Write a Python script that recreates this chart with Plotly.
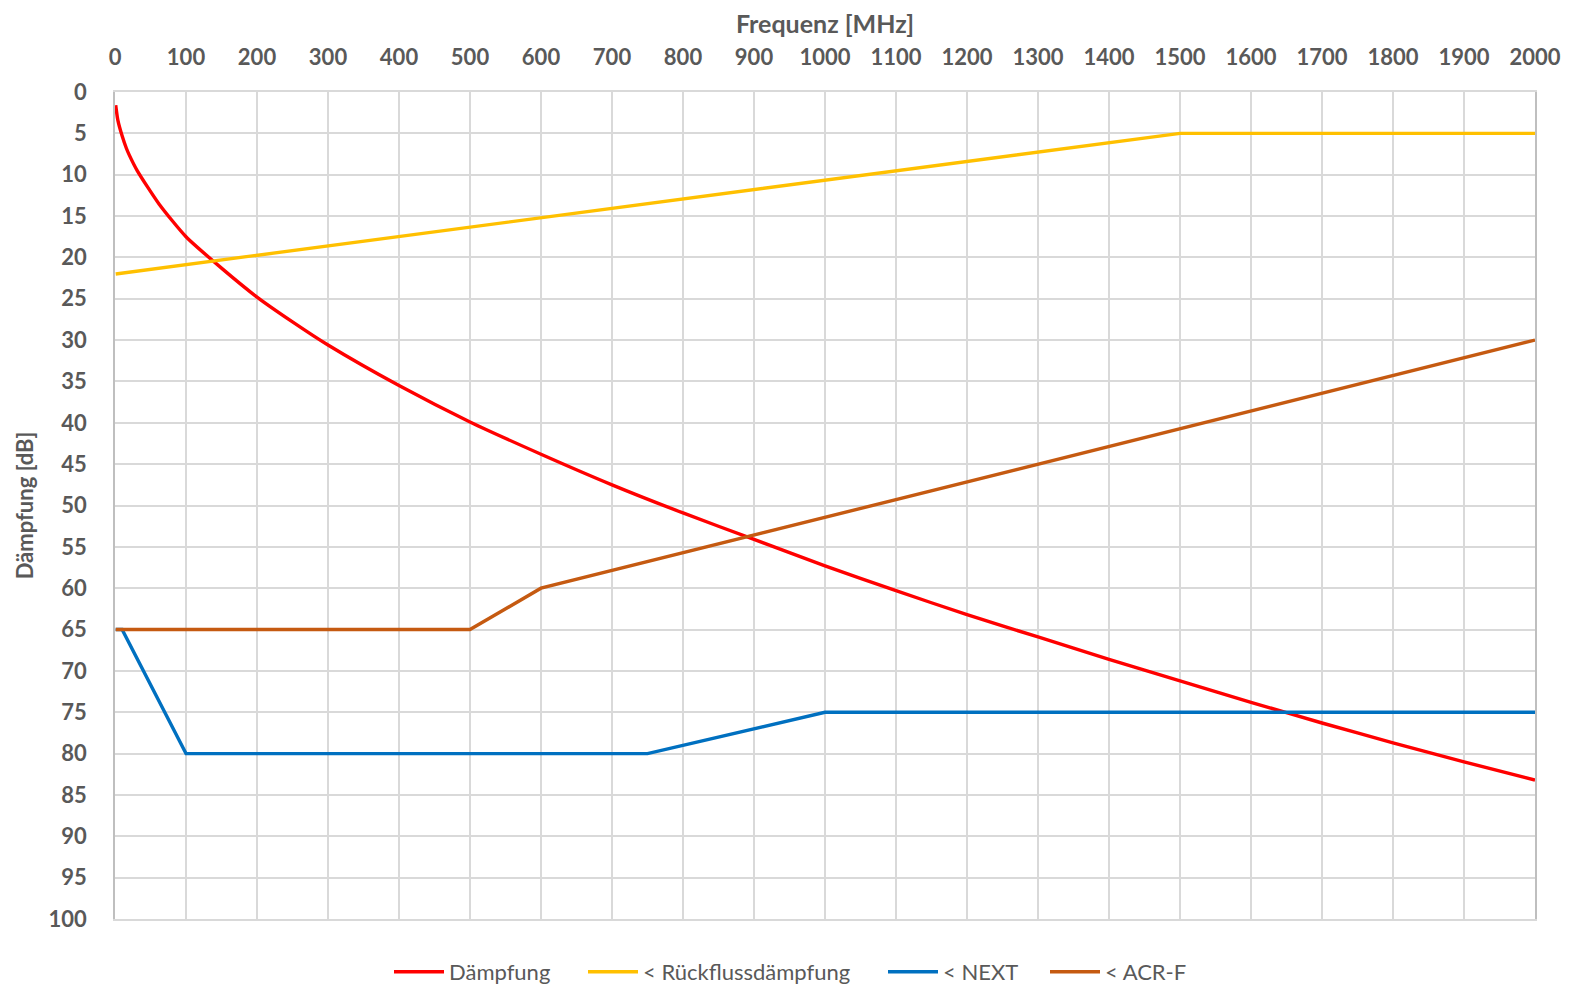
import plotly.graph_objects as go

# Data
daempf_f = [1, 4, 10, 16, 20, 31.25, 62.5, 100, 150, 200, 250, 300, 400, 500, 600, 700, 800, 900,
            1000, 1100, 1200, 1300, 1400, 1500, 1600, 1700, 1800, 1900, 2000]
daempf_db = [1.6, 3.4, 5.3, 6.8, 7.6, 9.5, 13.6, 17.5, 21.3, 24.8, 27.8, 30.6, 35.5, 39.9, 43.8, 47.5,
             50.9, 54.1, 57.3, 60.3, 63.2, 65.9, 68.6, 71.2, 73.8, 76.3, 78.7, 81.0, 83.2]

rl_f = [1, 1500, 2000]
rl_db = [22, 5, 5]

next_f = [1, 10, 100, 750, 1000, 2000]
next_db = [65, 65, 80, 80, 75, 75]

acrf_f = [1, 500, 600, 2000]
acrf_db = [65, 65, 60, 30]

x_ticks = list(range(0, 2001, 100))
y_ticks = list(range(0, 101, 5))

FONT = "Lato"
GREY = "#595959"

# page body has an 8px margin, so the figure is sized to the visible area
W, H = 1567, 976

series = [
    ("Dämpfung", daempf_f, daempf_db, "#FF0000", dict(shape="spline", smoothing=0.6), 381),
    ("< Rückflussdämpfung", rl_f, rl_db, "#FFC000", {}, 575),
    ("< NEXT", next_f, next_db, "#0070C0", {}, 875),
    ("< ACR-F", acrf_f, acrf_db, "#C55A11", {}, 1037),
]

fig = go.Figure()
legend_layouts = {}
for i, (name, xs, ys, col, extra, lx) in enumerate(series):
    lname = "legend" if i == 0 else f"legend{i+1}"
    fig.add_trace(go.Scatter(x=xs, y=ys, mode="lines", name=name, legend=lname,
                             line=dict(color=col, width=3.4, **extra)))
    legend_layouts[lname] = dict(
        orientation="h", xref="container", yref="container",
        x=lx / W, xanchor="left", y=1 - 964 / H, yanchor="middle",
        font=dict(family=FONT, size=22, color=GREY), itemwidth=50,
        bgcolor="rgba(0,0,0,0)", borderwidth=0,
    )

fig.update_layout(
    width=W, height=H,
    margin=dict(l=107, r=40, t=84, b=65),
    paper_bgcolor="white", plot_bgcolor="white",
    font=dict(family=FONT, color=GREY),
    showlegend=True,
    xaxis=dict(
        side="top", range=[0, 2000], tickvals=x_ticks, ticktext=[str(v) for v in x_ticks],
        showgrid=True, gridcolor="#D9D9D9", gridwidth=1.5, zeroline=False,
        showline=True, linecolor="#D9D9D9", linewidth=1.5, mirror=True,
        ticks="", ticklabelstandoff=16, automargin=False,
        tickfont=dict(family=FONT, size=22, color=GREY, weight="bold"),
        title=dict(text="Frequenz [MHz]", font=dict(family=FONT, size=25, color=GREY, weight="bold"), standoff=13),
    ),
    yaxis=dict(
        range=[100, 0], tickvals=y_ticks, ticktext=[str(v) for v in y_ticks],
        showgrid=True, gridcolor="#D9D9D9", gridwidth=1.5, zeroline=False,
        showline=True, linecolor="#BFBFBF", linewidth=1.5, mirror=True,
        ticks="", ticklabelstandoff=22, automargin=False,
        tickfont=dict(family=FONT, size=22, color=GREY, weight="bold"),
        title=dict(text="Dämpfung [dB]", font=dict(family=FONT, size=22, color=GREY, weight="bold"), standoff=9),
    ),
    **legend_layouts,
)

fig.write_html("out.html")
